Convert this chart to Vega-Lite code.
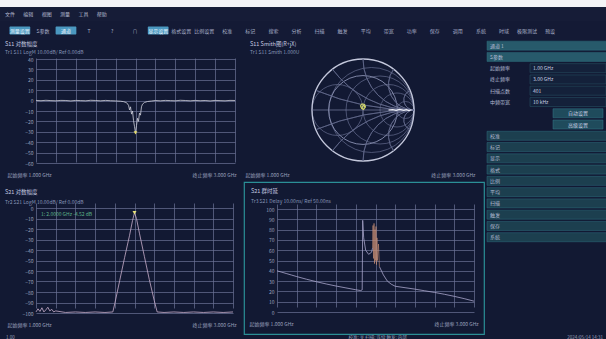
{
"$schema": "https://vega.github.io/schema/vega-lite/v6.json",
"background": "#121933",
"padding": 0,
"spacing": 0,
"config": {
  "font": "Noto Sans CJK SC",
  "view": {"stroke": null},
  "concat": {"spacing": 0},
  "legend": {"disable": true},
  "axis": {"domain": false, "ticks": false, "labelFontSize": 5, "labelColor": "#9aa1bd", "gridColor": "#6c7396", "gridWidth": 0.7, "labelOverlap": false, "labelFlush": false, "labelBound": false, "labelPadding": 3},
  "title": {"anchor": "start", "frame": "group", "fontSize": 5.5, "fontWeight": "normal", "color": "#c6cbe0", "subtitleFontSize": 5, "subtitleColor": "#8796b8", "subtitlePadding": 2.5, "dx": 5},
  "text": {"fontSize": 5, "color": "#a8afc8"}
},
"datasets": {
  "menu": [{"i":0,"t":"文件"},{"i":1,"t":"编辑"},{"i":2,"t":"视图"},{"i":3,"t":"测量"},{"i":4,"t":"工具"},{"i":5,"t":"帮助"}],
  "tools": [{"i":0,"t":"测量设置","on":true},{"i":1,"t":"S参数","on":false},{"i":2,"t":"通道","on":true},{"i":3,"t":"T","on":false},{"i":4,"t":"?","on":false},{"i":5,"t":"∩","on":false},{"i":6,"t":"显示设置","on":true},{"i":7,"t":"格式设置","on":false},{"i":8,"t":"比例设置","on":false},{"i":9,"t":"校准","on":false},{"i":10,"t":"标记","on":false},{"i":11,"t":"搜索","on":false},{"i":12,"t":"分析","on":false},{"i":13,"t":"扫描","on":false},{"i":14,"t":"触发","on":false},{"i":15,"t":"平均","on":false},{"i":16,"t":"带宽","on":false},{"i":17,"t":"功率","on":false},{"i":18,"t":"保存","on":false},{"i":19,"t":"调用","on":false},{"i":20,"t":"系统","on":false},{"i":21,"t":"时域","on":false},{"i":22,"t":"极限测试","on":false},{"i":23,"t":"预设","on":false}],
  "s11": [{"f":1.0,"db":0.2},{"f":1.05,"db":-0.1},{"f":1.1,"db":0.3},{"f":1.15,"db":0.0},{"f":1.2,"db":-0.2},{"f":1.25,"db":0.2},{"f":1.3,"db":0.1},{"f":1.35,"db":-0.3},{"f":1.4,"db":0.2},{"f":1.45,"db":0.0},{"f":1.5,"db":-0.2},{"f":1.55,"db":0.3},{"f":1.6,"db":0.1},{"f":1.65,"db":-0.2},{"f":1.7,"db":0.2},{"f":1.75,"db":-0.1},{"f":1.8,"db":-0.3},{"f":1.85,"db":-0.6},{"f":1.88,"db":-1.0},{"f":1.91,"db":-2.0},{"f":1.93,"db":-4.5},{"f":1.94,"db":-9},{"f":1.95,"db":-6},{"f":1.96,"db":-13},{"f":1.97,"db":-10},{"f":1.98,"db":-19},{"f":1.99,"db":-25},{"f":2.0,"db":-31,"mk":1},{"f":2.01,"db":-24},{"f":2.02,"db":-17},{"f":2.03,"db":-20},{"f":2.04,"db":-12},{"f":2.05,"db":-14},{"f":2.06,"db":-6},{"f":2.07,"db":-3.5},{"f":2.09,"db":-1.8},{"f":2.12,"db":-0.9},{"f":2.16,"db":-0.4},{"f":2.2,"db":0.1},{"f":2.25,"db":-0.2},{"f":2.3,"db":0.2},{"f":2.35,"db":0.0},{"f":2.4,"db":-0.2},{"f":2.45,"db":0.3},{"f":2.5,"db":0.1},{"f":2.55,"db":-0.2},{"f":2.6,"db":0.2},{"f":2.65,"db":-0.1},{"f":2.7,"db":0.1},{"f":2.75,"db":-0.3},{"f":2.8,"db":0.2},{"f":2.85,"db":0.0},{"f":2.9,"db":-0.2},{"f":2.95,"db":0.2},{"f":3.0,"db":0.1}],
  "s21": [{"f":1.0,"db":-99},{"f":1.02,"db":-96},{"f":1.04,"db":-98.5},{"f":1.06,"db":-95},{"f":1.08,"db":-99},{"f":1.1,"db":-97},{"f":1.12,"db":-94.5},{"f":1.14,"db":-98},{"f":1.16,"db":-96.5},{"f":1.18,"db":-99},{"f":1.2,"db":-98},{"f":1.3,"db":-99.5},{"f":1.4,"db":-99},{"f":1.5,"db":-99.5},{"f":1.6,"db":-99},{"f":1.7,"db":-99.5},{"f":1.78,"db":-99},{"f":1.8,"db":-91},{"f":1.85,"db":-69},{"f":1.9,"db":-47},{"f":1.95,"db":-26},{"f":1.98,"db":-12},{"f":2.0,"db":-4.5,"mk":1},{"f":2.02,"db":-10},{"f":2.05,"db":-24},{"f":2.1,"db":-46},{"f":2.15,"db":-68},{"f":2.2,"db":-88},{"f":2.23,"db":-99},{"f":2.3,"db":-99.5},{"f":2.4,"db":-99},{"f":2.5,"db":-99.5},{"f":2.6,"db":-99},{"f":2.7,"db":-99.5},{"f":2.8,"db":-99},{"f":2.9,"db":-99.5},{"f":3.0,"db":-99}],
  "gd": [{"f":1.0,"v":40,"seg":"a"},{"f":1.05,"v":38.6,"seg":"a"},{"f":1.1,"v":37.2,"seg":"a"},{"f":1.15,"v":35.8,"seg":"a"},{"f":1.2,"v":34.4,"seg":"a"},{"f":1.3,"v":31.8,"seg":"a"},{"f":1.4,"v":29.4,"seg":"a"},{"f":1.5,"v":27.2,"seg":"a"},{"f":1.6,"v":25.2,"seg":"a"},{"f":1.7,"v":23.4,"seg":"a"},{"f":1.8,"v":21.6,"seg":"a"},{"f":1.85,"v":20.8,"seg":"a"},{"f":1.865,"v":21.5,"seg":"a"},{"f":1.87,"v":89,"seg":"a"},{"f":1.88,"v":72,"seg":"a"},{"f":1.9,"v":60,"seg":"a"},{"f":1.93,"v":56,"seg":"a"},{"f":1.96,"v":58,"seg":"a"},{"f":1.97,"v":62,"seg":"a"},
         {"f":1.97,"v":62,"seg":"b"},{"f":1.975,"v":84,"seg":"b"},{"f":1.98,"v":52,"seg":"b"},{"f":1.985,"v":86,"seg":"b"},{"f":1.99,"v":47,"seg":"b"},{"f":1.995,"v":80,"seg":"b"},{"f":2.0,"v":50,"seg":"b"},{"f":2.005,"v":83,"seg":"b"},{"f":2.01,"v":46,"seg":"b"},{"f":2.015,"v":72,"seg":"b"},{"f":2.02,"v":50,"seg":"b"},{"f":2.03,"v":66,"seg":"b"},{"f":2.04,"v":44,"seg":"b"},
         {"f":2.04,"v":44,"seg":"c"},{"f":2.08,"v":36,"seg":"c"},{"f":2.12,"v":30,"seg":"c"},{"f":2.16,"v":27,"seg":"c"},{"f":2.2,"v":25,"seg":"c"},{"f":2.3,"v":23.6,"seg":"c"},{"f":2.4,"v":22.2,"seg":"c"},{"f":2.5,"v":20.6,"seg":"c"},{"f":2.6,"v":19,"seg":"c"},{"f":2.7,"v":17.2,"seg":"c"},{"f":2.8,"v":15.2,"seg":"c"},{"f":2.9,"v":13,"seg":"c"},{"f":3.0,"v":10.5,"seg":"c"}],
  "smithC": [{"cx":0,"cy":0,"d":2,"kind":"o"},{"cx":0,"cy":0,"d":1.35,"kind":"v"},{"cx":0.1667,"cy":0,"d":1.6667,"kind":"r"},{"cx":0.3333,"cy":0,"d":1.3333,"kind":"r"},{"cx":0.5,"cy":0,"d":1,"kind":"r"},{"cx":0.6667,"cy":0,"d":0.6667,"kind":"r"},{"cx":0.8333,"cy":0,"d":0.3333,"kind":"r"},{"cx":-0.5,"cy":0,"d":1,"kind":"r"}],
  "smithA": [{"ax":1,"ay":5,"r":5,"t0":3.1416,"t1":3.5364},{"ax":1,"ay":-5,"r":5,"t0":5.8884,"t1":6.2832},{"ax":1,"ay":2,"r":2,"t0":3.1416,"t1":4.0689},{"ax":1,"ay":-2,"r":2,"t0":5.3559,"t1":6.2832},{"ax":1,"ay":1,"r":1,"t0":3.1416,"t1":4.7124},{"ax":1,"ay":-1,"r":1,"t0":4.7124,"t1":6.2832},{"ax":1,"ay":0.5,"r":0.5,"t0":3.1416,"t1":5.3559},{"ax":1,"ay":-0.5,"r":0.5,"t0":4.0689,"t1":6.2832},{"ax":1,"ay":0.2,"r":0.2,"t0":3.1416,"t1":5.8884},{"ax":1,"ay":-0.2,"r":0.2,"t0":3.5364,"t1":6.2832}],
  "smithT": [{"k":0,"gr":0.95,"gi":0.005,"seg":"a"},{"k":1,"gr":0.9,"gi":-0.01,"seg":"a"},{"k":2,"gr":0.85,"gi":0.008,"seg":"a"},{"k":3,"gr":0.8,"gi":-0.006,"seg":"a"},{"k":4,"gr":0.72,"gi":0.01,"seg":"a"},{"k":5,"gr":0.65,"gi":-0.008,"seg":"a"},{"k":6,"gr":0.58,"gi":0.006,"seg":"a"},{"k":7,"gr":0.5,"gi":0.0,"seg":"a"},
             {"k":10,"gr":0.02,"gi":0.02,"seg":"b"},{"k":11,"gr":0.05,"gi":0.06,"seg":"b"},{"k":12,"gr":0.03,"gi":0.11,"seg":"b"},{"k":13,"gr":-0.02,"gi":0.12,"seg":"b"},{"k":14,"gr":-0.05,"gi":0.08,"seg":"b"},{"k":15,"gr":-0.03,"gi":0.03,"seg":"b"},{"k":16,"gr":0.01,"gi":0.01,"seg":"b"},{"k":17,"gr":0.04,"gi":0.05,"seg":"b"},{"k":18,"gr":0.01,"gi":0.09,"seg":"b"},{"k":19,"gr":-0.02,"gi":0.06,"seg":"b"},{"k":20,"gr":0.0,"gi":0.03,"seg":"b"}],
  "panel": [{"row":0,"kind":"hdr","label":"通道 1"},{"row":1,"kind":"hdr","label":"S参数"},{"row":2,"kind":"param","label":"起始频率","val":"1.00 GHz"},{"row":3,"kind":"param","label":"终止频率","val":"3.00 GHz"},{"row":4,"kind":"param","label":"扫描点数","val":"401"},{"row":5,"kind":"param","label":"中频带宽","val":"10 kHz"},{"row":6,"kind":"btn","label":"自动设置"},{"row":7,"kind":"btn","label":"高级设置"},{"row":8,"kind":"list","label":"校准"},{"row":9,"kind":"list","label":"标记"},{"row":10,"kind":"list","label":"显示"},{"row":11,"kind":"list","label":"格式"},{"row":12,"kind":"list","label":"比例"},{"row":13,"kind":"list","label":"平均"},{"row":14,"kind":"list","label":"扫描"},{"row":15,"kind":"list","label":"触发"},{"row":16,"kind":"list","label":"保存"},{"row":17,"kind":"list","label":"系统"}]
},
"vconcat": [
  {"width": 606, "height": 7, "view": {"fill": "#f3f3f6", "stroke": null}, "data": {"values": [{"a": 1}]}, "mark": {"type": "text", "text": ""}, "encoding": {}},
  {"width": 606, "height": 14, "view": {"fill": "#161c37", "stroke": null}, "data": {"name": "menu"},
   "mark": {"type": "text", "align": "left", "fontSize": 5, "color": "#b4bad0"},
   "encoding": {"x": {"field": "i", "type": "quantitative", "scale": {"domain": [-0.2723, 32.73], "nice": false, "zero": false}, "axis": null}, "text": {"field": "t"}}},
  {"width": 606, "height": 19, "view": {"fill": "#141a35", "stroke": null}, "data": {"name": "tools"},
   "layer": [
     {"transform": [{"filter": "datum.on"}], "mark": {"type": "rect", "color": "#4b98c0", "cornerRadius": 1},
      "encoding": {"x": {"field": "i", "type": "ordinal", "scale": {"domain": [0,1,2,3,4,5,6,7,8,9,10,11,12,13,14,15,16,17,18,19,20,21,22,23,24,25], "range": [9.5, 606.5], "paddingInner": 0.1, "paddingOuter": 0}, "axis": null},
                   "y": {"datum": "a", "type": "nominal", "scale": {"domain": ["a"], "paddingInner": 0, "paddingOuter": 0.7}, "axis": null}}},
     {"transform": [{"filter": "datum.on"}], "mark": {"type": "text", "fontSize": 5, "color": "#eef7ff"},
      "encoding": {"x": {"field": "i", "type": "ordinal", "axis": null}, "y": {"datum": "a", "type": "nominal", "axis": null}, "text": {"field": "t"}}},
     {"transform": [{"filter": "!datum.on"}], "mark": {"type": "text", "fontSize": 5, "color": "#a9b0c8"},
      "encoding": {"x": {"field": "i", "type": "ordinal", "axis": null}, "y": {"datum": "a", "type": "nominal", "axis": null}, "text": {"field": "t"}}}
   ]},
  {"spacing": 0, "hconcat": [
    {"spacing": 0, "vconcat": [
      {"spacing": 0, "hconcat": [
        {"width": 240, "height": 141,
         "title": {"text": "S11 对数幅度", "subtitle": "Tr1  S11  LogM  10.00dB/  Ref 0.00dB", "offset": -15},
         "data": {"name": "s11"},
         "encoding": {
           "x": {"field": "f", "type": "quantitative", "title": null, "scale": {"domain": [1, 3], "range": [36, 235], "nice": false, "zero": false},
                 "axis": {"values": [1,1.2,1.4,1.6,1.8,2,2.2,2.4,2.6,2.8,3], "offset": -18, "labelPadding": 9, "labelAlign": "left",
                          "labelOffset": {"condition": {"test": "datum.value < 1.5", "value": -29}, "value": -43},
                          "labelExpr": "datum.value == 1 ? '起始频率  1.000 GHz' : datum.value == 3 ? '终止频率  3.000 GHz' : ''"}},
           "y": {"field": "db", "type": "quantitative", "title": null, "scale": {"domain": [-60, 40], "range": [123, 19], "nice": false, "zero": false},
                 "axis": {"values": [-60,-50,-40,-30,-20,-10,0,10,20,30,40], "offset": -36}}},
         "layer": [
           {"mark": {"type": "line", "color": "#cfd0dc", "strokeWidth": 0.8}},
           {"transform": [{"filter": "datum.mk == 1"}], "mark": {"type": "point", "shape": "triangle-down", "filled": true, "color": "#e6dc6a", "size": 14, "opacity": 1}}
         ]},
        {"width": 243, "height": 141,
         "title": {"text": "S11 Smith图(R+jX)", "subtitle": "Tr1  S11  Smith  1.000U", "offset": -15, "dx": 10},
         "layer": [
           {"data": {"name": "smithC"}, "transform": [{"filter": "datum.kind == 'r'"}], "mark": {"type": "point", "shape": "circle", "filled": false, "opacity": 1, "color": "#646b8e", "strokeWidth": 0.7},
            "encoding": {
              "x": {"field": "cx", "type": "quantitative", "title": null, "scale": {"domain": [-2.4118, 2.3529], "nice": false, "zero": false},
                    "axis": {"values": [-2.4118, 2.3529], "grid": false, "offset": -18, "labelPadding": 9,
                             "labelAlign": {"condition": {"test": "datum.value < 0", "value": "left"}, "value": "right"},
                             "labelOffset": {"condition": {"test": "datum.value < 0", "value": 5}, "value": -8},
                             "labelExpr": "datum.value < 0 ? '起始频率  1.000 GHz' : '终止频率  3.000 GHz'"}},
              "y": {"field": "cy", "type": "quantitative", "scale": {"domain": [-1.3922, 1.3725], "nice": false, "zero": false}, "axis": null},
              "size": {"field": "d", "type": "quantitative", "scale": {"type": "pow", "exponent": 2, "domain": [0, 2], "range": [0, 10404], "zero": true}, "legend": null}}},
           {"data": {"name": "smithC"}, "transform": [{"filter": "datum.kind == 'v'"}], "mark": {"type": "point", "shape": "circle", "filled": false, "opacity": 1, "color": "#8a91b2", "strokeWidth": 0.9},
            "encoding": {
              "x": {"field": "cx", "type": "quantitative", "title": null},
              "y": {"field": "cy", "type": "quantitative", "axis": null},
              "size": {"field": "d", "type": "quantitative", "legend": null}}},
           {"data": {"name": "smithC"}, "transform": [{"filter": "datum.kind == 'o'"}], "mark": {"type": "point", "shape": "circle", "filled": false, "opacity": 1, "color": "#c4c8dc", "strokeWidth": 1.3},
            "encoding": {
              "x": {"field": "cx", "type": "quantitative", "title": null},
              "y": {"field": "cy", "type": "quantitative", "axis": null},
              "size": {"field": "d", "type": "quantitative", "legend": null}}},
           {"data": {"name": "smithA"}, "mark": {"type": "arc", "filled": false, "color": "#646b8e", "strokeWidth": 0.7, "clip": true},
            "encoding": {
              "x": {"field": "ax", "type": "quantitative", "title": null},
              "y": {"field": "ay", "type": "quantitative", "axis": null},
              "theta": {"field": "t0", "type": "quantitative", "scale": null, "stack": null},
              "theta2": {"field": "t1"},
              "radius": {"field": "r", "type": "quantitative", "scale": {"type": "linear", "domain": [0, 1], "range": [0, 51], "zero": true}},
              "radius2": {"field": "r"}}},
           {"data": {"values": [{"a": 1}]}, "mark": {"type": "rule", "color": "#7a80a2", "strokeWidth": 0.7},
            "encoding": {"x": {"datum": -1, "type": "quantitative", "title": null}, "x2": {"datum": 1}, "y": {"datum": 0, "type": "quantitative", "axis": null}}},
           {"data": {"name": "smithT"}, "transform": [{"filter": "datum.seg == 'a'"}], "mark": {"type": "line", "strokeWidth": 1.2, "color": "#eef0f8"},
            "encoding": {"x": {"field": "gr", "type": "quantitative", "title": null}, "y": {"field": "gi", "type": "quantitative", "axis": null}, "order": {"field": "k"}}},
           {"data": {"name": "smithT"}, "transform": [{"filter": "datum.seg == 'b'"}], "mark": {"type": "line", "strokeWidth": 1.1, "color": "#cfd46a"},
            "encoding": {"x": {"field": "gr", "type": "quantitative", "title": null}, "y": {"field": "gi", "type": "quantitative", "axis": null}, "order": {"field": "k"}}}
         ]}
      ]},
      {"spacing": 0, "hconcat": [
        {"width": 243, "height": 152,
         "title": {"text": "S21 对数幅度", "subtitle": "Tr2  S21  LogM  10.00dB/  Ref 0.00dB", "offset": -23, "subtitlePadding": 5},
         "data": {"name": "s21"},
         "encoding": {
           "x": {"field": "f", "type": "quantitative", "title": null, "scale": {"domain": [1, 3], "range": [36, 233], "nice": false, "zero": false},
                 "axis": {"values": [1,1.2,1.4,1.6,1.8,2,2.2,2.4,2.6,2.8,3], "offset": -21, "labelPadding": 9, "labelAlign": "left",
                          "labelOffset": {"condition": {"test": "datum.value < 1.5", "value": -29}, "value": -41},
                          "labelExpr": "datum.value == 1 ? '起始频率  1.000 GHz' : datum.value == 3 ? '终止频率  3.000 GHz' : ''"}},
           "y": {"field": "db", "type": "quantitative", "title": null, "scale": {"domain": [-100, 0], "range": [131, 26], "nice": false, "zero": false},
                 "axis": {"values": [-100,-90,-80,-70,-60,-50,-40,-30,-20,-10,0], "offset": -36}}},
         "layer": [
           {"mark": {"type": "line", "color": "#c9aecb", "strokeWidth": 0.8}},
           {"transform": [{"filter": "datum.mk == 1"}], "mark": {"type": "point", "shape": "triangle-down", "filled": true, "color": "#e6e07a", "size": 16, "opacity": 1}},
           {"transform": [{"filter": "datum.mk == 1"}], "mark": {"type": "text", "align": "left", "fontSize": 5, "color": "#5fb58a", "text": "1:  2.0000 GHz   -4.52 dB"},
            "encoding": {
              "x": {"datum": 1.05, "type": "quantitative", "title": null,
                    "axis": {"values": [1,1.2,1.4,1.6,1.8,2,2.2,2.4,2.6,2.8,3], "offset": -21, "labelPadding": 9, "labelAlign": "left",
                             "labelOffset": {"condition": {"test": "datum.value < 1.5", "value": -29}, "value": -41},
                             "labelExpr": "datum.value == 1 ? '起始频率  1.000 GHz' : datum.value == 3 ? '终止频率  3.000 GHz' : ''"}},
              "y": {"datum": -6, "type": "quantitative", "title": null,
                    "axis": {"values": [-100,-90,-80,-70,-60,-50,-40,-30,-20,-10,0], "offset": -36}}}}
         ]},
        {"width": 240, "height": 152, "view": {"stroke": "#2b8f96", "strokeWidth": 1.2},
         "title": {"text": "S21 群时延", "subtitle": "Tr3  S21  Delay  10.00ns/  Ref 50.00ns", "offset": -22, "subtitlePadding": 5, "dx": 7},
         "data": {"name": "gd"},
         "encoding": {
           "x": {"field": "f", "type": "quantitative", "title": null, "scale": {"domain": [1, 3], "range": [33, 230], "nice": false, "zero": false},
                 "axis": {"values": [1,1.2,1.4,1.6,1.8,2,2.2,2.4,2.6,2.8,3], "offset": -22, "labelPadding": 9, "labelAlign": "left",
                          "labelOffset": {"condition": {"test": "datum.value < 1.5", "value": -28}, "value": -40},
                          "labelExpr": "datum.value == 1 ? '起始频率  1.000 GHz' : datum.value == 3 ? '终止频率  3.000 GHz' : ''"}},
           "y": {"field": "v", "type": "quantitative", "title": null, "scale": {"domain": [0, 100], "range": [130, 27], "nice": false, "zero": false},
                 "axis": {"values": [0,10,20,30,40,50,60,70,80,90,100], "offset": -33}}},
         "layer": [
           {"transform": [{"filter": "datum.seg != 'b'"}], "mark": {"type": "line", "strokeWidth": 0.8, "color": "#aaa6cc"},
            "encoding": {"detail": {"field": "seg"}}},
           {"transform": [{"filter": "datum.seg == 'b'"}], "mark": {"type": "line", "strokeWidth": 0.7, "color": "#c88e74", "opacity": 0.85}}
         ]}
      ]}
    ]},
    {"width": 123, "height": 293, "data": {"name": "panel"},
     "layer": [
       {"transform": [{"filter": "datum.kind == 'hdr'"}], "mark": {"type": "rect", "fill": "#275a6b", "stroke": "#2e6e7e", "strokeWidth": 0.5},
        "encoding": {
          "x": {"datum": 2, "type": "quantitative", "scale": {"domain": [0, 123], "nice": false, "zero": false}, "axis": null}, "x2": {"datum": 123},
          "y": {"field": "row", "type": "ordinal", "scale": {"domain": [0,1,2,3,4,5,6,7,8,9,10,11,12,13,14,15,16,17,18,19,20,21,22,23,24,25], "paddingInner": 0.2, "paddingOuter": 0.1}, "axis": null}}},
       {"transform": [{"filter": "datum.kind == 'list'"}], "mark": {"type": "rect", "fill": "#1c3f4f", "stroke": "#2e6e7e", "strokeWidth": 0.5},
        "encoding": {"x": {"datum": 2, "type": "quantitative", "axis": null}, "x2": {"datum": 123}, "y": {"field": "row", "type": "ordinal", "axis": null}}},
       {"transform": [{"filter": "datum.kind == 'param'"}], "mark": {"type": "rect", "fill": "#14213a", "stroke": "#2a5868", "strokeWidth": 0.5},
        "encoding": {"x": {"datum": 45, "type": "quantitative", "axis": null}, "x2": {"datum": 121}, "y": {"field": "row", "type": "ordinal", "axis": null}}},
       {"transform": [{"filter": "datum.kind == 'btn'"}], "mark": {"type": "rect", "fill": "#1f4b5c", "stroke": "#357888", "strokeWidth": 0.5},
        "encoding": {"x": {"datum": 68, "type": "quantitative", "axis": null}, "x2": {"datum": 118}, "y": {"field": "row", "type": "ordinal", "axis": null}}},
       {"transform": [{"filter": "datum.kind != 'btn'"}], "mark": {"type": "text", "align": "left", "fontSize": 5, "color": "#b4bcd4"},
        "encoding": {"x": {"datum": 5, "type": "quantitative", "axis": null}, "y": {"field": "row", "type": "ordinal", "axis": null}, "text": {"field": "label"}}},
       {"transform": [{"filter": "datum.kind == 'param'"}], "mark": {"type": "text", "align": "left", "fontSize": 5, "color": "#c8d0e4"},
        "encoding": {"x": {"datum": 48, "type": "quantitative", "axis": null}, "y": {"field": "row", "type": "ordinal", "axis": null}, "text": {"field": "val"}}},
       {"transform": [{"filter": "datum.kind == 'btn'"}], "mark": {"type": "text", "fontSize": 5, "color": "#c8d0e4"},
        "encoding": {"x": {"datum": 93, "type": "quantitative", "axis": null}, "y": {"field": "row", "type": "ordinal", "axis": null}, "text": {"field": "label"}}}
     ]}
  ]},
  {"width": 606, "height": 6, "data": {"values": [{"a": 1}]},
   "layer": [
     {"mark": {"type": "text", "text": "1.00", "align": "left", "fontSize": 4.5, "color": "#9aa1bd"},
      "encoding": {"x": {"datum": 0.01, "type": "quantitative", "scale": {"domain": [0, 1], "nice": false, "zero": false}, "axis": null}}},
     {"mark": {"type": "text", "text": "校准: 关    扫描: 连续    触发: 内部", "align": "left", "fontSize": 4.5, "color": "#9aa1bd"},
      "encoding": {"x": {"datum": 0.575, "type": "quantitative", "axis": null}}},
     {"mark": {"type": "text", "text": "2024/05/14  14:31", "align": "right", "fontSize": 4.5, "color": "#9aa1bd"},
      "encoding": {"x": {"datum": 0.995, "type": "quantitative", "axis": null}}}
   ]}
]
}
